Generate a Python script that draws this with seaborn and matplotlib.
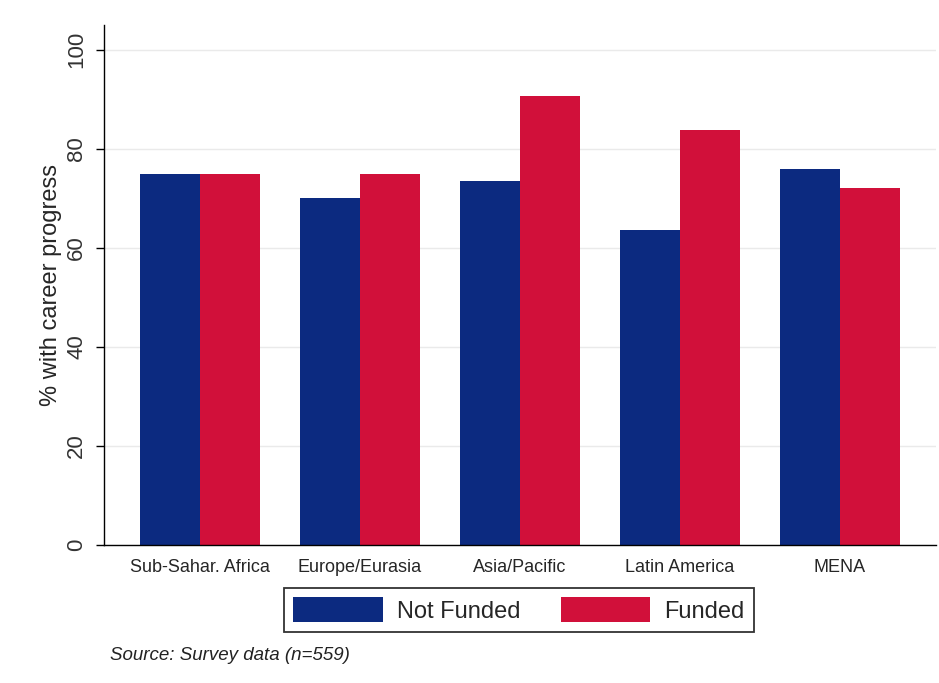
import matplotlib
matplotlib.use("Agg")
import matplotlib.pyplot as plt
import seaborn as sns
import pandas as pd
from matplotlib.patches import Patch

regions = ["Sub-Sahar. Africa", "Europe/Eurasia", "Asia/Pacific", "Latin America", "MENA"]
not_funded = [75, 70, 73.5, 63.7, 76]
funded = [75, 75, 90.6, 83.8, 72]
groups = ["Not Funded", "Funded"]
yticks = [0, 20, 40, 60, 80, 100]
source_note = "Source: Survey data (n=559)"
ylabel = "% with career progress"

navy = "#0C2A80"
crimson = "#D1103A"

df = pd.DataFrame({
    "region": regions * 2,
    "group": [groups[0]] * len(regions) + [groups[1]] * len(regions),
    "value": not_funded + funded,
})

sns.set_theme(style="white")
plt.rcParams["font.family"] = ["Liberation Sans", "DejaVu Sans"]

fig = plt.figure(figsize=(9.39, 6.83), dpi=100)
ax = fig.add_axes([104 / 939, (683 - 545) / 683, (936 - 104) / 939, (545 - 25) / 683])

sns.barplot(data=df, x="region", y="value", hue="group", order=regions,
            hue_order=groups, palette=[navy, crimson], width=0.75,
            saturation=1, errorbar=None, ax=ax, legend=False, zorder=2,
            linewidth=0)

ax.set_xlim(-0.6, 4.6)
ax.set_ylim(0, 105)
ax.set_yticks(yticks)
ax.set_yticklabels([str(t) for t in yticks], rotation=90, va="center", fontsize=16,
                   color="#333333")
ax.tick_params(axis="y", length=6, width=1, color="black", pad=6, left=True)
ax.tick_params(axis="x", length=0, pad=10, labelsize=13)
ax.yaxis.grid(True, color="#EAEAEA", linewidth=1, zorder=0)
ax.set_axisbelow(True)
ax.set_xlabel("")
ax.set_ylabel(ylabel, fontsize=17, labelpad=3)

for side in ["top", "right"]:
    ax.spines[side].set_visible(False)
for side in ["left", "bottom"]:
    ax.spines[side].set_color("black")
    ax.spines[side].set_linewidth(1)

handles = [Patch(facecolor=navy, edgecolor="none"), Patch(facecolor=crimson, edgecolor="none")]
leg = fig.legend(handles, groups, loc="center", bbox_to_anchor=(519 / 939, 1 - 610 / 683),
                 ncol=2, fontsize=17, handlelength=3.8, handleheight=1.25,
                 handletextpad=0.6, columnspacing=1.7, borderpad=0.4,
                 frameon=True, fancybox=False, edgecolor="black")
leg.get_frame().set_linewidth(1.3)

fig.text(110 / 939, 1 - 655 / 683, source_note, fontsize=13.5, style="italic",
         va="center", ha="left", color="#222222")

fig.savefig("out.png", dpi=100, facecolor="white")
